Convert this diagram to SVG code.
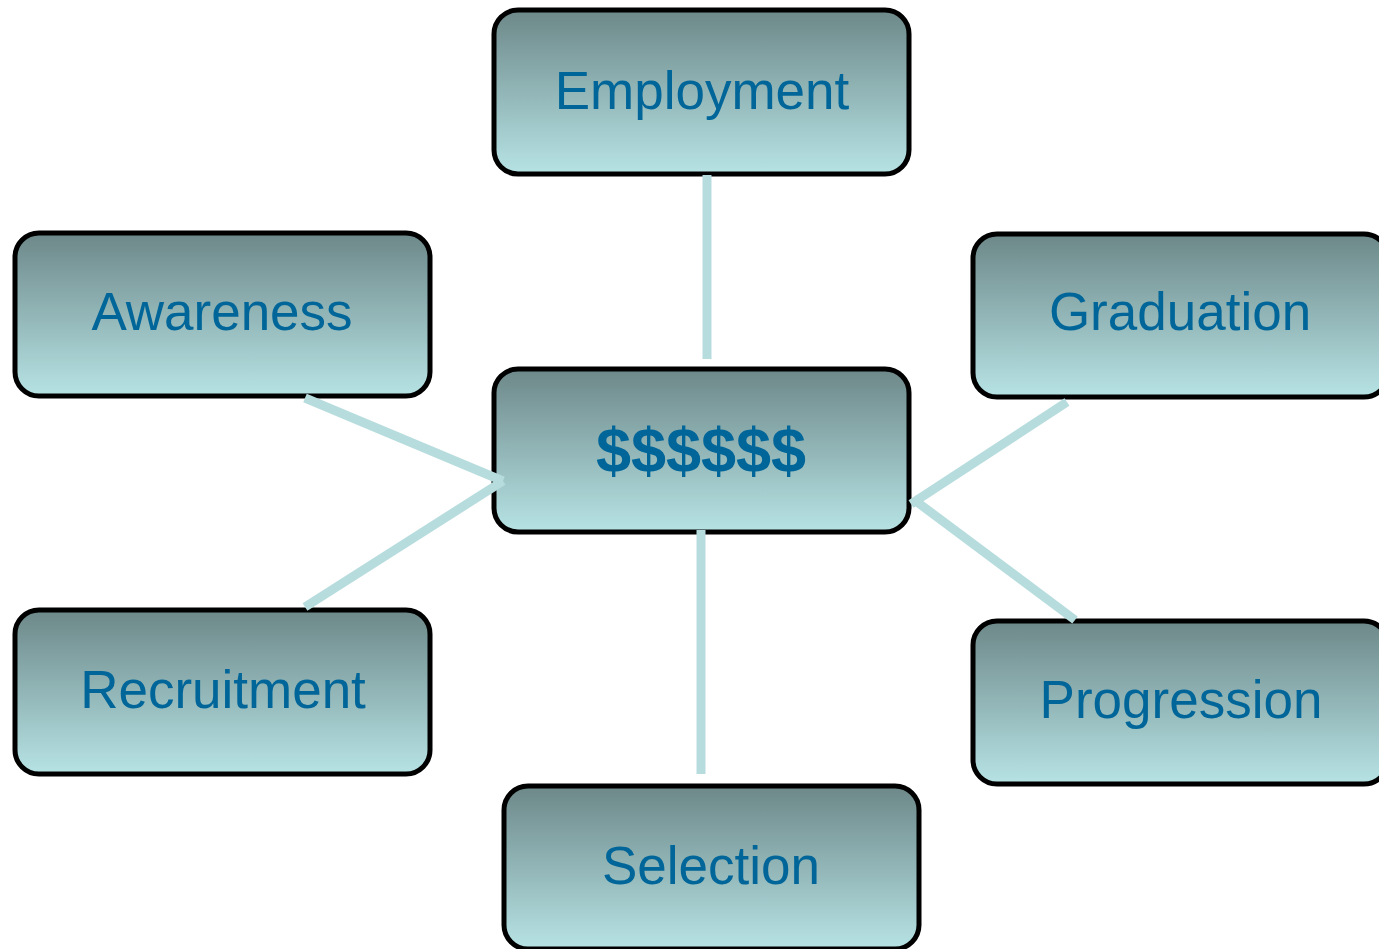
<svg xmlns="http://www.w3.org/2000/svg" width="1379" height="949" viewBox="0 0 1379 949">
<defs>
<linearGradient id="g" x1="0" y1="0" x2="0" y2="1">
<stop offset="0" stop-color="#6d8889"/>
<stop offset="1" stop-color="#b7e3e5"/>
</linearGradient>
</defs>
<style>
.box{fill:url(#g);stroke:#000;stroke-width:5}
.t{font-family:"Liberation Sans",Arial,sans-serif;font-size:53px;fill:#006699;text-anchor:middle}
.b{font-weight:bold;font-size:63px}
.c{stroke:#b7dcdd;stroke-width:9;fill:none}
</style>
<rect width="1379" height="949" fill="#fff"/>
<g id="employment"><rect class="box" x="494" y="10" width="415" height="164" rx="24"/><text class="t" x="702" y="109">Employment</text></g>
<g id="awareness"><rect class="box" x="15" y="233" width="415" height="163" rx="24"/><text class="t" x="222" y="330">Awareness</text></g>
<g id="graduation"><rect class="box" x="973" y="234" width="415" height="163" rx="24"/><text class="t" x="1180" y="330">Graduation</text></g>
<g id="center"><rect class="box" x="494" y="369" width="415" height="163" rx="24"/><text class="t b" x="701" y="472">$$$$$$</text></g>
<g id="recruitment"><rect class="box" x="15" y="610" width="415" height="164" rx="24"/><text class="t" x="223" y="708">Recruitment</text></g>
<g id="progression"><rect class="box" x="973" y="621" width="415" height="163" rx="24"/><text class="t" x="1181" y="718">Progression</text></g>
<g id="selection"><rect class="box" x="504" y="786" width="415" height="163" rx="24"/><text class="t" x="711" y="884">Selection</text></g>
<g id="connectors">
<line class="c" x1="707" y1="175" x2="707" y2="359"/>
<line class="c" x1="305" y1="398" x2="503" y2="481"/>
<line class="c" x1="305" y1="607" x2="503" y2="481"/>
<line class="c" x1="701" y1="530" x2="701" y2="774"/>
<line class="c" x1="1067" y1="402" x2="911" y2="504"/>
<line class="c" x1="913" y1="499" x2="1075" y2="620"/>
</g>
</svg>
